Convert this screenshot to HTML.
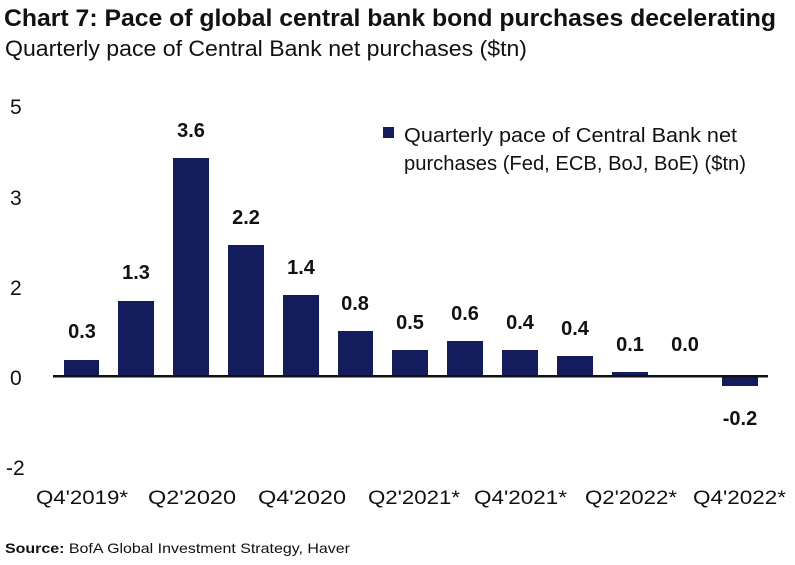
<!DOCTYPE html>
<html><head><meta charset="utf-8"><style>
html,body{margin:0;padding:0;background:#fff;}
svg{display:block;}
text{font-family:"Liberation Sans",sans-serif;fill:#111;}
</style></head><body>
<svg width="795" height="565" viewBox="0 0 795 565" xmlns="http://www.w3.org/2000/svg">
<text x="4" y="26" font-size="24" font-weight="bold" textLength="772" lengthAdjust="spacingAndGlyphs">Chart 7: Pace of global central bank bond purchases decelerating</text>
<text x="5" y="56" font-size="22" textLength="522" lengthAdjust="spacingAndGlyphs" fill="#222">Quarterly pace of Central Bank net purchases ($tn)</text>
<g font-size="21" fill="#333">
<text x="10" y="114">5</text>
<text x="10" y="205">3</text>
<text x="10" y="295">2</text>
<text x="10" y="385">0</text>
<text x="6" y="475">-2</text>
</g>
<rect x="383" y="127" width="11" height="11" fill="#131c5c"/>
<text x="404" y="142" font-size="20" textLength="333" lengthAdjust="spacingAndGlyphs" fill="#222">Quarterly pace of Central Bank net</text>
<text x="404" y="170" font-size="20" textLength="342" lengthAdjust="spacingAndGlyphs" fill="#222">purchases (Fed, ECB, BoJ, BoE) ($tn)</text>
<g fill="#131c5c">
<rect x="64" y="360" width="35" height="16"/>
<rect x="118" y="301" width="36" height="75"/>
<rect x="173" y="158" width="36" height="218"/>
<rect x="228" y="245" width="36" height="131"/>
<rect x="283" y="295" width="36" height="81"/>
<rect x="338" y="331" width="35" height="45"/>
<rect x="392" y="350" width="36" height="26"/>
<rect x="447" y="341" width="36" height="35"/>
<rect x="502" y="350" width="36" height="26"/>
<rect x="557" y="356" width="36" height="20"/>
<rect x="612" y="372" width="36" height="4"/>
<rect x="668" y="375" width="35" height="1"/>
<rect x="722" y="376" width="36" height="10"/>
</g>
<rect x="53" y="375" width="715" height="2.5" fill="#111"/>
<g font-size="20" font-weight="bold" text-anchor="middle">
<text x="82" y="338">0.3</text>
<text x="136" y="279">1.3</text>
<text x="191" y="137">3.6</text>
<text x="246" y="224">2.2</text>
<text x="301" y="274">1.4</text>
<text x="355" y="310">0.8</text>
<text x="410" y="329">0.5</text>
<text x="465" y="320">0.6</text>
<text x="520" y="329">0.4</text>
<text x="575" y="335">0.4</text>
<text x="630" y="351">0.1</text>
<text x="685" y="351">0.0</text>
<text x="740" y="425">-0.2</text>
</g>
<g font-size="19" fill="#222">
<text x="36" y="504" textLength="92" lengthAdjust="spacingAndGlyphs">Q4'2019*</text>
<text x="148" y="504" textLength="88" lengthAdjust="spacingAndGlyphs">Q2'2020</text>
<text x="258" y="504" textLength="88" lengthAdjust="spacingAndGlyphs">Q4'2020</text>
<text x="368" y="504" textLength="92" lengthAdjust="spacingAndGlyphs">Q2'2021*</text>
<text x="474" y="504" textLength="93" lengthAdjust="spacingAndGlyphs">Q4'2021*</text>
<text x="585" y="504" textLength="92" lengthAdjust="spacingAndGlyphs">Q2'2022*</text>
<text x="693" y="504" textLength="93" lengthAdjust="spacingAndGlyphs">Q4'2022*</text>
</g>
<text x="5" y="553" font-size="14" fill="#222" textLength="345" lengthAdjust="spacingAndGlyphs"><tspan font-weight="bold">Source:</tspan> BofA Global Investment Strategy, Haver</text>
</svg>
</body></html>
